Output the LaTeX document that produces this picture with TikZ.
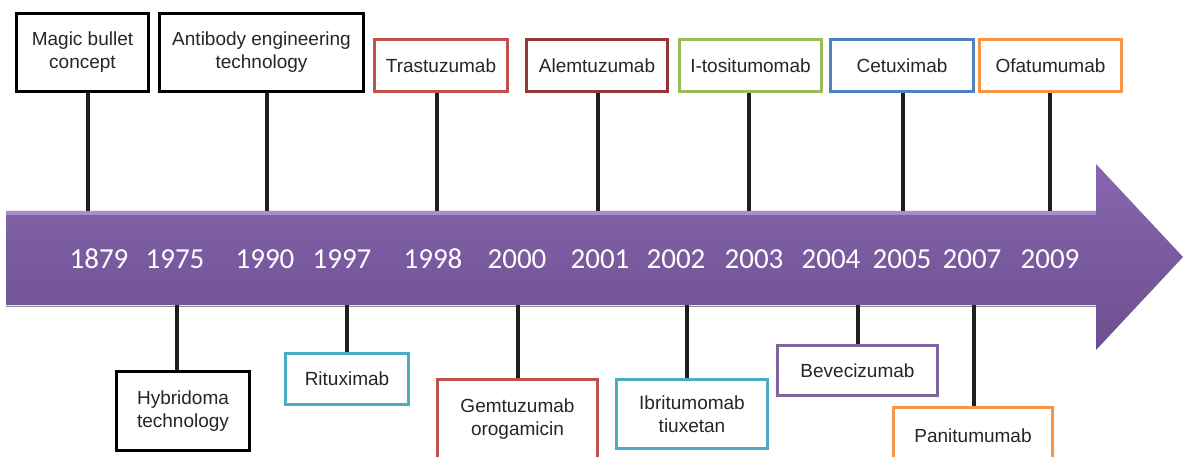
\documentclass[tikz,border=0pt]{standalone}
\usepackage{fontspec}
\setmainfont{Liberation Sans}
\newfontfamily\yearfont{Carlito}
\usetikzlibrary{positioning}
\definecolor{txtgray}{HTML}{262626}
\definecolor{boxred}{HTML}{C0504D}
\definecolor{boxdarkred}{HTML}{953735}
\definecolor{boxgreen}{HTML}{9BBB59}
\definecolor{boxblue}{HTML}{4F81BD}
\definecolor{boxorange}{HTML}{F79646}
\definecolor{boxcyan}{HTML}{4BACC6}
\definecolor{boxpurple}{HTML}{8064A2}
\definecolor{arrowtop}{HTML}{8766AE}
\definecolor{arrowbot}{HTML}{6C4F90}
\definecolor{arrowlight}{HTML}{A88ECB}

\begin{document}
\begin{tikzpicture}[x=1pt,y=-1pt,
		box/.style={draw=#1,fill=white,line width=3pt,align=center,inner sep=0pt,
			text=txtgray,font=\fontsize{19}{23}\selectfont},
		stem/.style={line width=3.5pt,black!88},
		year/.style={text=white,font=\yearfont\fontsize{29}{32}\selectfont}]
		\clip (0,0) rectangle (1184,457);
		\fill [white] (0,0) rectangle (1184,457);
		% the arrow
		\shade [top color=arrowtop,bottom color=arrowbot]
			(6,211) -- (1096,211) -- (1096,164) -- (1183,257) -- (1096,350)
			-- (1096,305) -- (6,305) -- cycle;
		\fill [arrowlight] (6,211) rectangle (1096,215);
		\draw [black!45,line width=1pt] (6,306) -- (1096,306);
		% years
		\node[year] (n1879) at (99,259) {1879};
		\node[year] (n1975) at (175,259) {1975};
		\node[year] (n1990) at (265,259) {1990};
		\node[year] (n1997) at (342,259) {1997};
		\node[year] (n1998) at (433,259) {1998};
		\node[year] (n2000) at (517,259) {2000};
		\node[year] (n2001) at (600,259) {2001};
		\node[year] (n2002) at (676,259) {2002};
		\node[year] (n2003) at (754,259) {2003};
		\node[year] (n2004) at (831,259) {2004};
		\node[year] (n2005) at (902,259) {2005};
		\node[year] (n2007) at (972,259) {2007};
		\node[year] (n2009) at (1050,259) {2009};
		% events above
		\node[box=black,minimum width=132pt,minimum height=78pt] (magic) at (82.5,52.5) {Magic bullet\\concept};
		\node[box=black,minimum width=204pt,minimum height=78pt] (antibody) at (261.5,52.5) {Antibody engineering\\technology};
		\node[box=boxred,minimum width=133pt,minimum height=52pt] (trast) at (441,66) {Trastuzumab};
		\node[box=boxdarkred,minimum width=141pt,minimum height=52pt] (alem) at (597,66) {Alemtuzumab};
		\node[box=boxgreen,minimum width=142pt,minimum height=52pt] (itosi) at (750.5,66) {I-tositumomab};
		\node[box=boxblue,minimum width=143pt,minimum height=52pt] (cetux) at (902,66) {Cetuximab};
		\node[box=boxorange,minimum width=142pt,minimum height=52pt] (ofatu) at (1050.5,66) {Ofatumumab};
		% events below
		\node[box=black,minimum width=133pt,minimum height=79pt] (hybrid) at (183,411) {Hybridoma\\technology};
		\node[box=boxcyan,minimum width=123pt,minimum height=51pt] (ritux) at (347,379) {Rituximab};
		\node[box=boxred,minimum width=160pt,minimum height=79pt] (gemtu) at (517.5,419) {Gemtuzumab\\orogamicin};
		\node[box=boxcyan,minimum width=151pt,minimum height=69pt] (ibrit) at (692,414) {Ibritumomab\\tiuxetan};
		\node[box=boxpurple,minimum width=160pt,minimum height=50pt] (bevec) at (857.5,370.5) {Bevecizumab};
		\node[box=boxorange,minimum width=159pt,minimum height=57pt] (panit) at (973,436) {Panitumumab};
		% stems to the arrow
		\coordinate (t1879) at (88,211);
		\coordinate (t1990) at (267,211);
		\coordinate (t1998) at (437,211);
		\coordinate (t2001) at (598,211);
		\coordinate (t2003) at (749,211);
		\coordinate (t2005) at (903,211);
		\coordinate (t2009) at (1050,211);
		\coordinate (b1975) at (177,305);
		\coordinate (b1997) at (347,305);
		\coordinate (b2000) at (518,305);
		\coordinate (b2002) at (687,305);
		\coordinate (b2004) at (858,305);
		\coordinate (b2007) at (974,305);
		\draw[stem] (t1879) -- (t1879 |- magic.south);
		\draw[stem] (t1990) -- (t1990 |- antibody.south);
		\draw[stem] (t1998) -- (t1998 |- trast.south);
		\draw[stem] (t2001) -- (t2001 |- alem.south);
		\draw[stem] (t2003) -- (t2003 |- itosi.south);
		\draw[stem] (t2005) -- (t2005 |- cetux.south);
		\draw[stem] (t2009) -- (t2009 |- ofatu.south);
		\draw[stem] (b1975) -- (b1975 |- hybrid.north);
		\draw[stem] (b1997) -- (b1997 |- ritux.north);
		\draw[stem] (b2000) -- (b2000 |- gemtu.north);
		\draw[stem] (b2002) -- (b2002 |- ibrit.north);
		\draw[stem] (b2004) -- (b2004 |- bevec.north);
		\draw[stem] (b2007) -- (b2007 |- panit.north);
\end{tikzpicture}
\end{document}
